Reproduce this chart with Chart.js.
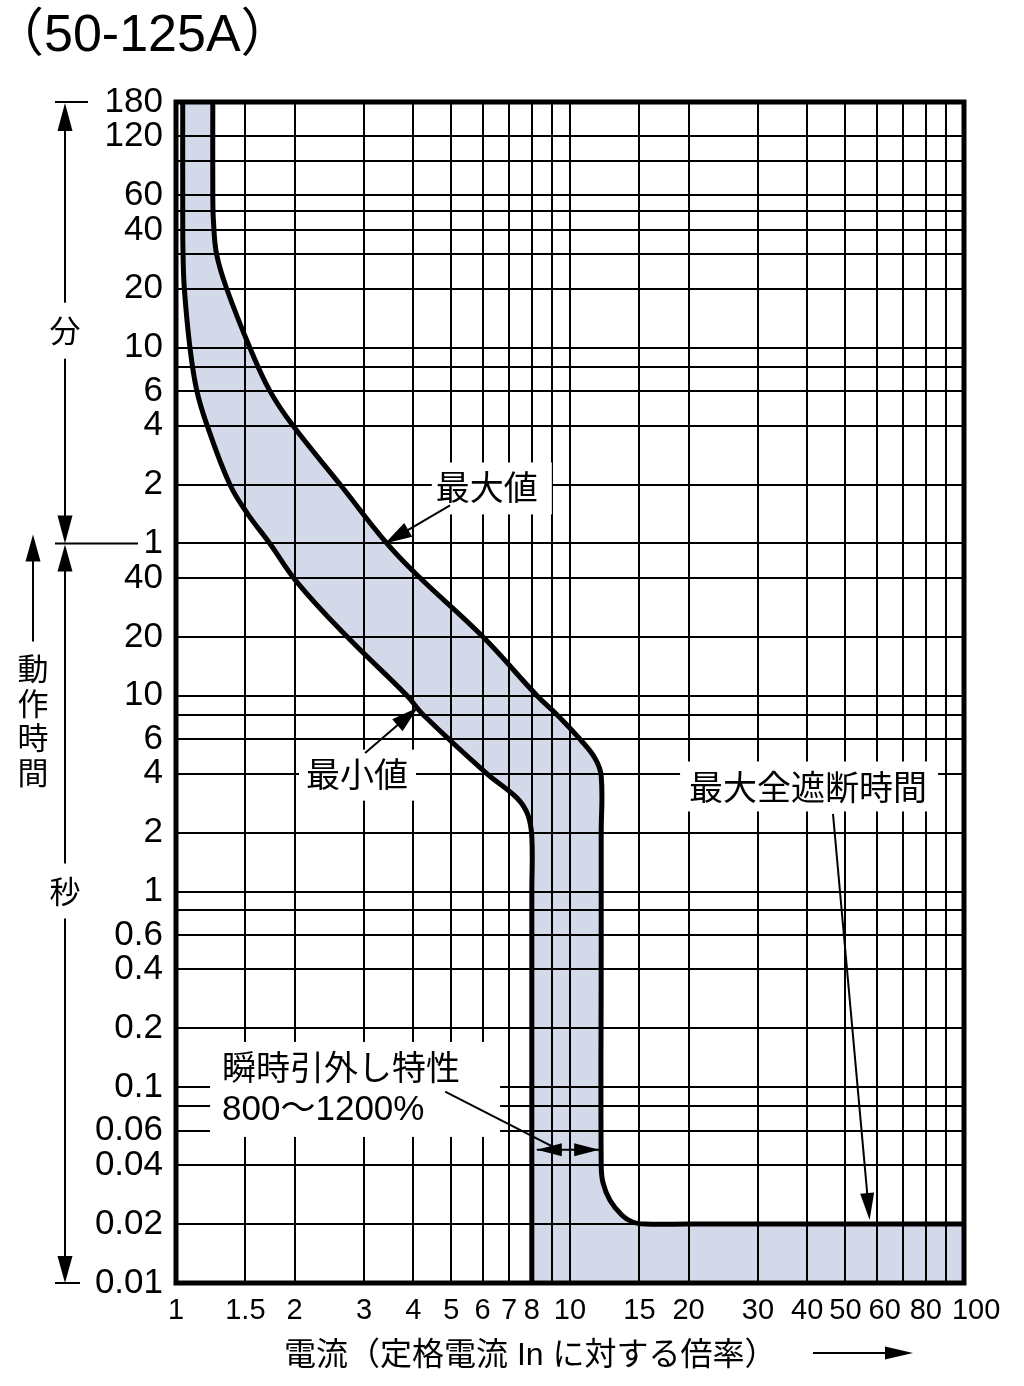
<!DOCTYPE html>
<html>
<head>
<meta charset="utf-8">
<script src="https://cdn.jsdelivr.net/npm/chart.js@4.4.1/dist/chart.umd.min.js"></script>
<style>
html,body{margin:0;padding:0;background:#fff;}
#wrap{width:1024px;height:1386px;position:relative;}
canvas{display:block;}
</style>
</head>
<body>
<div id="wrap"><canvas id="c" width="1024" height="1386"></canvas></div>
<script>
// ---------------- data ----------------
const titleText = '（50-125A）';
const xAxisTitle = '電流（定格電流 In に対する倍率）';

// current multiple (x) grid values and labels
const xGridValues = [1,1.5,2,3,4,5,6,7,8,9,10,15,20,30,40,50,60,70,80,90,100];
const xTickLabels = ['1','1.5','2','3','4','5','6','7','8','10','15','20','30','40','50','60','80','100'];

// operating time grid values, in seconds
const yGridSeconds = [10800,7200,5400,3600,3000,2400,1800,1200,600,480,360,240,120,60,
                      40,20,10,8,6,4,2,1,0.8,0.6,0.4,0.2,0.1,0.08,0.06,0.04,0.02,0.01];
const minuteTickLabels = ['180','120','60','40','20','10','6','4','2','1'];
const secondTickLabels = ['40','20','10','6','4','2','1','0.6','0.4','0.2','0.1','0.06','0.04','0.02','0.01'];

// minimum operating curve (最小値)
const minCurveX = [1.04,1.04,1.042,1.05,1.085,1.13,1.2,1.37,1.52,1.73,2.03,2.72,3.86,4.24,6.15,7.34,7.82,8.0,8.0,8.0,8.0];
const minCurveY = [10800,3000,1800,1200,600,360,240,120,85,60,38,20,10,8,4,3.0,2.46,1.9,1.0,0.1,0.01];

// maximum operating curve (最大値) incl. maximum total interrupting time
const maxCurveX = [1.24,1.24,1.245,1.268,1.345,1.54,1.732,1.98,2.61,3.43,4.11,6.01,8.25,9.27,10.6,11.57,12,12,12,12,12.13,12.64,13.55,14.4,15.5,20,30,100];
const maxCurveY = [10800,3600,2640,1800,1200,600,360,240,120,60,41,20,10,8,6,4.8,3.9,2,0.5,0.04,0.0325,0.0264,0.0222,0.0205,0.02,0.02,0.02,0.02];

// ---------------- build ----------------
const LAT = '"Liberation Sans", "Noto Sans CJK JP", sans-serif';
const JP = '"Noto Sans CJK JP", "Liberation Sans", sans-serif';

const pts = (xs, ys) => xs.map((v, i) => ({x: v, y: ys[i]}));
const minPts = pts(minCurveX, minCurveY);
const maxPts = pts(maxCurveX, maxCurveY);
const xMax = xGridValues[xGridValues.length - 1];
const yMin = yGridSeconds[yGridSeconds.length - 1];
const bandPts = [
  minPts[0], ...minPts, minPts[minPts.length - 1],
  {x: xMax, y: yMin}, {x: xMax, y: yMin},
  maxPts[maxPts.length - 1], ...maxPts.slice().reverse(), maxPts[0]
];

const near = (a, b) => Math.abs(a - b) <= Math.abs(b) * 1e-6;
// crowded labels at the right end are nudged right (as in the original print)
const xLabelNudge = {'60': '  ', '100': '   '};
function xLabel(v) {
  const l = xTickLabels.find(s => near(v, Number(s)));
  if (l === undefined) return '';
  return (xLabelNudge[l] || '') + l;
}
function yLabel(v) {
  if (v >= 60) {
    const l = minuteTickLabels.find(s => near(v / 60, Number(s)));
    return l === undefined ? '' : l;
  }
  const l = secondTickLabels.find(s => near(v, Number(s)));
  return l === undefined ? '' : l;
}

function arrowHead(ctx, tx, ty, fx, fy, len, half) {
  const a = Math.atan2(ty - fy, tx - fx);
  const bx = tx - len * Math.cos(a), by = ty - len * Math.sin(a);
  ctx.beginPath();
  ctx.moveTo(tx, ty);
  ctx.lineTo(bx + half * Math.sin(a), by - half * Math.cos(a));
  ctx.lineTo(bx - half * Math.sin(a), by + half * Math.cos(a));
  ctx.closePath();
  ctx.fill();
}
function line(ctx, x1, y1, x2, y2) {
  ctx.beginPath(); ctx.moveTo(x1, y1); ctx.lineTo(x2, y2); ctx.stroke();
}

const annot = {
  id: 'annot',
  afterDraw(chart) {
    const {ctx, chartArea: a, scales} = chart;
    const X = v => scales.x.getPixelForValue(v);
    const Y = v => scales.y.getPixelForValue(v);
    ctx.save();
    ctx.fillStyle = '#000';
    ctx.strokeStyle = '#000';

    // ---- in-plot labels with white boxes ----
    function boxLabel(text, cx, cy, l, r, t, b, font, align) {
      ctx.fillStyle = '#fff';
      ctx.fillRect(cx - l, cy - t, l + r, t + b);
      ctx.fillStyle = '#000';
      ctx.font = font;
      ctx.textAlign = align || 'center';
      ctx.textBaseline = 'middle';
      ctx.fillText(text, cx, cy);
    }
    // 最大値
    let cx = X(6.15), cy = Y(116);
    boxLabel('最大値', cx, cy, 55, 65, 25, 27, '34px ' + JP);
    ctx.lineWidth = 2;
    let tx = X(3.39), ty = Y(60), fx = X(4.96), fy = Y(93.8);
    line(ctx, fx, fy, tx + (fx - tx) * 0.3, ty + (fy - ty) * 0.3);
    arrowHead(ctx, tx, ty, fx, fy, 27, 8);

    // 最小値
    cx = X(2.88); cy = Y(4);
    boxLabel('最小値', cx, cy, 58, 59, 24, 27, '34px ' + JP);
    tx = X(4.11); ty = Y(8.7); fx = X(3.02); fy = Y(5.1);
    line(ctx, fx, fy, tx + (fx - tx) * 0.3, ty + (fy - ty) * 0.3);
    arrowHead(ctx, tx, ty, fx, fy, 27, 8);

    // 最大全遮断時間
    cx = X(40.2); cy = Y(3.4);
    boxLabel('最大全遮断時間', cx, cy, 128, 130, 26, 24, '34px ' + JP);
    tx = X(57.6); ty = Y(0.021); fx = X(46.5); fy = Y(2.49);
    line(ctx, fx, fy, tx + (fx - tx) * 0.05, ty + (fy - ty) * 0.05);
    arrowHead(ctx, tx, ty, fx, fy, 27, 7);

    // 瞬時引外し特性 800〜1200%
    const lx = X(1.309), l1 = Y(0.127), l2 = Y(0.076);
    ctx.fillStyle = '#fff';
    ctx.fillRect(lx - 12, l1 - 25, 290, 95);
    ctx.fillStyle = '#000';
    ctx.textAlign = 'left'; ctx.textBaseline = 'middle';
    ctx.font = '34px ' + JP;
    ctx.fillText('瞬時引外し特性', lx, l1);
    ctx.font = '35px ' + LAT;
    ctx.fillText('800〜1200%', lx, l2);
    line(ctx, X(4.82), Y(0.095), X(9.54), Y(0.047));
    // double arrow between 8x and 12x
    const dy = Y(0.048), dl = X(8) + 5, dr = X(12) - 2;
    line(ctx, dl, dy, dr, dy);
    arrowHead(ctx, dl, dy, dr, dy, 25, 6.5);
    arrowHead(ctx, dr, dy, dl, dy, 25, 6.5);

    // ---- plot border ----
    ctx.lineWidth = 5;
    ctx.strokeRect(a.left, a.top, a.right - a.left, a.bottom - a.top);

    // ---- left side: 分 / 秒 / 動作時間 ----
    ctx.lineWidth = 2;
    const ax = 65;
    const yTop = a.top, y1m = Y(60), yBot = a.bottom;
    line(ctx, 55, yTop, 88, yTop);
    arrowHead(ctx, ax, yTop + 1, ax, yTop + 50, 28, 7.5);
    const yFen = Y(600) - 17;
    line(ctx, ax, yTop + 20, ax, yFen - 28);
    line(ctx, ax, yFen + 28, ax, y1m - 20);
    arrowHead(ctx, ax, y1m, ax, y1m - 50, 28, 7.5);
    line(ctx, 55, y1m, 138, y1m);
    arrowHead(ctx, ax, y1m + 1, ax, y1m + 50, 27, 7.5);
    const yByo = Y(1);
    line(ctx, ax, y1m + 20, ax, yByo - 28);
    line(ctx, ax, yByo + 27, ax, yBot - 20);
    arrowHead(ctx, ax, yBot, ax, yBot - 50, 27, 7.5);
    line(ctx, 55, yBot, 80, yBot);

    ctx.font = '31px ' + JP;
    ctx.textAlign = 'center'; ctx.textBaseline = 'middle';
    ctx.fillText('分', ax, yFen);
    ctx.fillText('秒', ax, yByo);

    // 動作時間 vertical with arrow
    const vx = 33;
    arrowHead(ctx, vx, y1m - 9, vx, y1m + 40, 27, 7.5);
    line(ctx, vx, y1m + 10, vx, y1m + 98);
    const chars = ['動', '作', '時', '間'];
    chars.forEach((ch, i) => ctx.fillText(ch, vx, y1m + 125 + i * 34.5));

    // ---- title ----
    ctx.font = '52px ' + LAT;
    ctx.textAlign = 'left'; ctx.textBaseline = 'alphabetic';
    ctx.fillText(titleText, -8, 51);

    // ---- x axis title with arrow ----
    ctx.font = '32px ' + LAT;
    ctx.textBaseline = 'middle';
    ctx.fillText(xAxisTitle, 284, 1356);
    line(ctx, 813, 1353, 890, 1353);
    arrowHead(ctx, 913, 1353, 813, 1353, 28, 6.5);

    ctx.restore();
  }
};

new Chart(document.getElementById('c'), {
  type: 'scatter',
  data: {
    datasets: [
      {label: 'band', data: bandPts, showLine: true, fill: 'shape',
       backgroundColor: '#d3d9e8', borderColor: 'rgba(0,0,0,0)', borderWidth: 0,
       pointRadius: 0, tension: 0.4},
      {label: '最小値', data: minPts, showLine: true, fill: false,
       borderColor: '#000', borderWidth: 5, pointRadius: 0, tension: 0.4,
       borderCapStyle: 'butt', borderJoinStyle: 'round'},
      {label: '最大値', data: maxPts, showLine: true, fill: false,
       borderColor: '#000', borderWidth: 5, pointRadius: 0, tension: 0.4,
       borderCapStyle: 'butt', borderJoinStyle: 'round'}
    ]
  },
  options: {
    responsive: false,
    animation: false,
    devicePixelRatio: 1,
    layout: {padding: {top: 102, right: 60, left: 0, bottom: 0}},
    plugins: {
      legend: {display: false},
      tooltip: {enabled: false},
      filler: {drawTime: 'beforeDraw'}
    },
    scales: {
      x: {
        type: 'logarithmic', min: 1, max: 100,
        afterBuildTicks: s => { s.ticks = xGridValues.map(v => ({value: v})); },
        afterFit: s => { s.height = 103; },
        grid: {color: '#000', lineWidth: 2, drawTicks: false},
        border: {display: false},
        ticks: {autoSkip: false, maxRotation: 0, minRotation: 0, padding: 11, color: '#000',
                font: {family: '"Liberation Sans"', size: 29},
                callback: v => xLabel(v)}
      },
      y: {
        type: 'logarithmic', min: 0.01, max: 10800,
        afterBuildTicks: s => { s.ticks = yGridSeconds.map(v => ({value: v})); },
        afterFit: s => { s.width = 176; },
        grid: {color: '#000', lineWidth: 2, drawTicks: false},
        border: {display: false},
        ticks: {autoSkip: false, padding: 13, color: '#000',
                font: {family: '"Liberation Sans"', size: 35},
                callback: v => yLabel(v)}
      }
    }
  },
  plugins: [annot]
});
</script>
</body>
</html>
